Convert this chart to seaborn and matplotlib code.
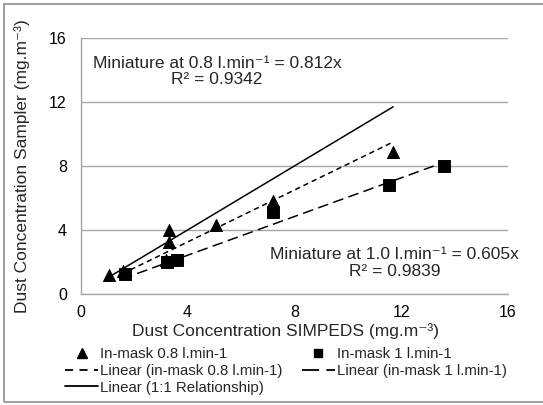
import matplotlib
matplotlib.use("Agg")
import matplotlib.pyplot as plt
import seaborn as sns
import numpy as np
import pandas as pd
from matplotlib.lines import Line2D
from matplotlib.patches import Rectangle

# ---- data ----
x_08 = [1.05, 1.6, 3.2, 3.3, 3.3, 5.05, 7.2, 11.7]
y_08 = [1.2, 1.45, 2.15, 3.25, 4.0, 4.3, 5.8, 8.85]
x_10 = [1.65, 3.25, 3.6, 7.2, 11.55, 13.6]
y_10 = [1.25, 2.0, 2.15, 5.1, 6.8, 8.0]
slope_08 = 0.812
slope_10 = 0.605
r2_08 = 0.9342
r2_10 = 0.9839
ticks = [0, 4, 8, 12, 16]
label_08 = "In-mask 0.8 l.min-1"
label_10 = "In-mask 1 l.min-1"
label_fit08 = "Linear (in-mask 0.8 l.min-1)"
label_fit10 = "Linear (in-mask 1 l.min-1)"
label_11 = "Linear (1:1 Relationship)"

sns.set_style("white")
plt.rcParams['font.family'] = ['Liberation Sans', 'DejaVu Sans']

fig = plt.figure(figsize=(5.43, 4.05), dpi=100)
ax = fig.add_axes([80.7/543, 1-294/405, (508-80.7)/543, (294-38)/405])

df08 = pd.DataFrame({"x": x_08, "y": y_08})
df10 = pd.DataFrame({"x": x_10, "y": y_10})

# 1:1 line and fitted lines
xr11 = np.array([min(x_08), max(x_08)])
ax.plot(xr11, xr11, color="black", lw=1.1, zorder=2)
xr08 = np.array([min(x_08) + 0.5, max(x_08) - 0.1])
ax.plot(xr08, slope_08 * xr08, color="black", lw=1.1, dashes=(3.5, 2.5), zorder=2)
xr10 = np.array([min(x_10) - 0.1, max(x_10)])
ax.plot(xr10, slope_10 * xr10, color="black", lw=1.1, dashes=(7, 3.5), zorder=2)

sns.scatterplot(data=df08, x="x", y="y", marker="^", s=75, color="black",
                edgecolor="black", ax=ax, zorder=3, legend=False)
sns.scatterplot(data=df10, x="x", y="y", marker="s", s=70, color="black",
                edgecolor="black", ax=ax, zorder=3, legend=False)

ax.set_xlim(0, 16)
ax.set_ylim(0, 16)
ax.set_xticks(ticks)
ax.set_yticks(ticks)
ax.set_xticklabels([str(t) for t in ticks])
ax.set_yticklabels([str(t) for t in ticks])
ax.tick_params(axis="both", length=0, labelsize=11.5, colors="black")
ax.tick_params(axis="y", pad=10)
ax.tick_params(axis="x", pad=8)
ax.yaxis.grid(True, color="#a6a6a6", lw=1)
ax.xaxis.grid(False)
for s in ["top", "right"]:
    ax.spines[s].set_visible(False)
for s in ["left", "bottom"]:
    ax.spines[s].set_color("#a6a6a6")
    ax.spines[s].set_linewidth(1)

ax.set_xlabel("Dust Concentration SIMPEDS (mg.m\u207b\u00b3)", fontsize=12.5, va="center")
ax.set_ylabel("Dust Concentration Sampler (mg.m\u207b\u00b3)", fontsize=12.5, va="center")
ax.xaxis.set_label_coords((285 - 80.7) / 427.3, (294 - 331) / 256)
ax.yaxis.set_label_coords((22 - 80.7) / 427.3, 0.5)

ax.text(5.1, 13.9, f"Miniature at 0.8 l.min\u207b\u00b9 = {slope_08}x\nR\u00b2 = {r2_08}",
        ha="center", va="center", fontsize=12.5, linespacing=1.15)
ax.text(11.75, 1.95, f"Miniature at 1.0 l.min\u207b\u00b9 = {slope_10}x\nR\u00b2 = {r2_10}",
        ha="center", va="center", fontsize=12.5, linespacing=1.15)

handles = [
    Line2D([], [], marker="^", color="black", ls="none", markersize=6.5),
    Line2D([], [], color="black", lw=1.3, dashes=(4.5, 3.5)),
    Line2D([], [], color="black", lw=1.3),
    Line2D([], [], marker="s", color="black", ls="none", markersize=6),
    Line2D([], [], color="black", lw=1.3, dashes=(9.5, 4)),
]
labels = [label_08, label_fit08, label_11, label_10, label_fit10]
fig.legend(handles, labels, ncol=2, loc="upper left",
           bbox_to_anchor=(65/543, 1-347.5/405), frameon=False, fontsize=10.8,
           handlelength=2.2, handletextpad=0.15, columnspacing=1.25,
           labelspacing=0.17, borderaxespad=0, borderpad=0)

fig.patches.append(Rectangle((4/543, 3/405), 1.2, 1-7/405, transform=fig.transFigure,
                             fill=False, edgecolor="#a0a0a0", lw=1.5, figure=fig))

fig.savefig("out.png", dpi=100)
